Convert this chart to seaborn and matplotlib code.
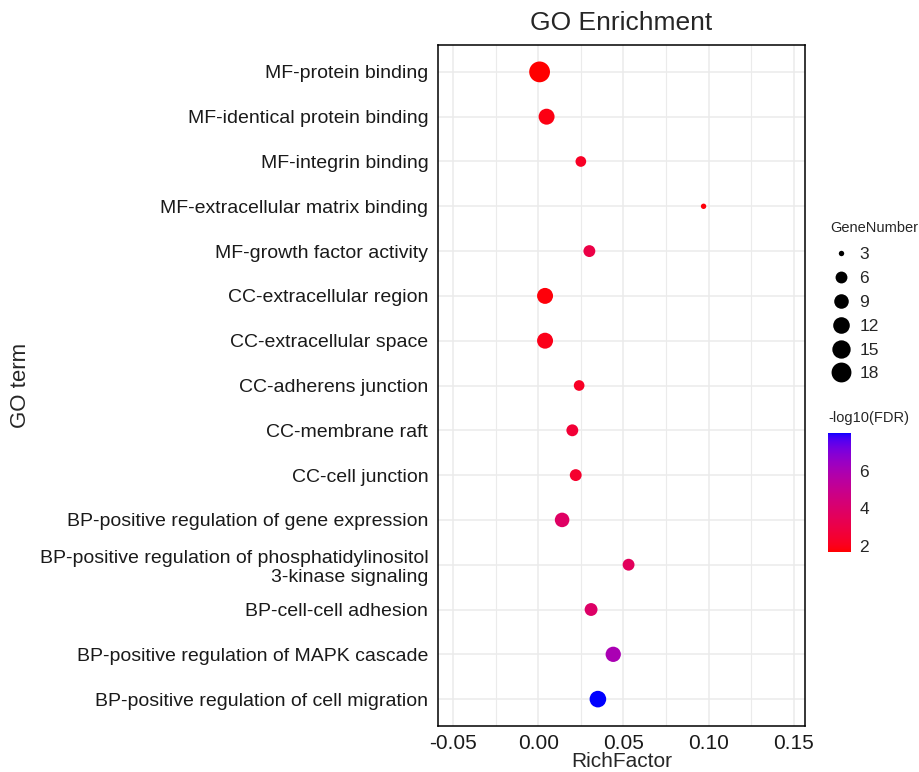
import numpy as np
import pandas as pd
import matplotlib
matplotlib.use('Agg')
import matplotlib.pyplot as plt
import seaborn as sns
from matplotlib.colors import ListedColormap, Normalize
from matplotlib.cm import ScalarMappable
from matplotlib.lines import Line2D

# GO terms, top to bottom
terms = [
    'MF-protein binding',
    'MF-identical protein binding',
    'MF-integrin binding',
    'MF-extracellular matrix binding',
    'MF-growth factor activity',
    'CC-extracellular region',
    'CC-extracellular space',
    'CC-adherens junction',
    'CC-membrane raft',
    'CC-cell junction',
    'BP-positive regulation of gene expression',
    'BP-positive regulation of phosphatidylinositol\n3-kinase signaling',
    'BP-cell-cell adhesion',
    'BP-positive regulation of MAPK cascade',
    'BP-positive regulation of cell migration',
]
rich_factor = [0.0008, 0.0049, 0.025, 0.097, 0.030, 0.004, 0.004, 0.024,
               0.020, 0.022, 0.014, 0.053, 0.031, 0.044, 0.035]
gene_number = [20, 11, 5, 3, 6, 11, 11, 5, 6, 6, 9, 6, 7, 10, 12]
neg_log10_fdr = [1.70, 1.90, 2.20, 1.80, 3.00, 1.80, 2.00, 2.20,
                 2.60, 2.40, 3.80, 3.60, 3.90, 6.00, 8.00]

size_breaks = [3, 6, 9, 12, 15, 18]
color_ticks = [2, 4, 6]
x_ticks = [-0.05, 0.00, 0.05, 0.10, 0.15]

df = pd.DataFrame({'term': terms, 'RichFactor': rich_factor,
                   'GeneNumber': gene_number, 'FDR': neg_log10_fdr})


# red -> blue gradient interpolated in Lab space (like ggplot2)
def lab_to_rgb(L, a, b):
    fy = (L + 16) / 116
    fx = fy + a / 500
    fz = fy - b / 200

    def finv(t):
        return np.where(t > 6 / 29, t ** 3, 3 * (6 / 29) ** 2 * (t - 4 / 29))

    X, Y, Z = 0.95047 * finv(fx), finv(fy), 1.08883 * finv(fz)
    r = 3.2406 * X - 1.5372 * Y - 0.4986 * Z
    g = -0.9689 * X + 1.8758 * Y + 0.0415 * Z
    bb = 0.0557 * X - 0.2040 * Y + 1.0570 * Z
    rgb = np.stack([r, g, bb], axis=-1)
    rgb = np.where(rgb <= 0.0031308, 12.92 * rgb,
                   1.055 * np.abs(rgb) ** (1 / 2.4) - 0.055)
    return np.clip(rgb, 0, 1)


t = np.linspace(0, 1, 256)
red_lab = np.array([53.24, 80.09, 67.20])
blue_lab = np.array([32.30, 79.19, -107.86])
lab = red_lab[None, :] + t[:, None] * (blue_lab - red_lab)[None, :]
cmap = ListedColormap(lab_to_rgb(lab[:, 0], lab[:, 1], lab[:, 2]))
norm = Normalize(vmin=1.68, vmax=8.0)


# point radius (px) grows with sqrt of the count, as ggplot's scale_size
def radius_px(v, vmin=3, vmax=20, rmin=2.7, rmax=10.4):
    return rmin + (rmax - rmin) * np.sqrt((v - vmin) / (vmax - vmin))


px = 0.72  # points per pixel at dpi 100
size_map = {v: (2 * radius_px(v) * px) ** 2 for v in sorted(set(gene_number))}

sns.set_style('white')
plt.rcParams['font.family'] = ['Liberation Sans', 'DejaVu Sans']

fig = plt.figure(figsize=(9.2, 7.72), dpi=100)
ax = fig.add_axes([438 / 920, 1 - 726 / 772, 367 / 920, 681 / 772])

sns.scatterplot(data=df, x='RichFactor', y='term', hue='FDR', size='GeneNumber',
                palette=cmap, hue_norm=norm, sizes=size_map, linewidth=0,
                legend=False, ax=ax, zorder=3)

ax.set_xlim(-0.0588, 0.1565)
ax.set_ylim(len(terms) - 0.4, -0.6)
ax.set_xticks(x_ticks)
ax.set_xticklabels(['-0.05', '0.00', '0.05', '0.10', '0.15'])
ax.set_xticks([-0.025, 0.025, 0.075, 0.125], minor=True)
ax.grid(which='major', color='#EBEBEB', linewidth=1.1, zorder=0)
ax.grid(which='minor', axis='x', color='#EBEBEB', linewidth=0.8, zorder=0)
ax.set_axisbelow(True)
for s in ax.spines.values():
    s.set_color('black')
    s.set_linewidth(1.1)
ax.tick_params(axis='both', which='major', length=4, width=0.8, color='#333333',
               labelcolor='#1a1a1a', direction='out', pad=3)
ax.tick_params(axis='y', labelsize=14)
ax.tick_params(axis='x', labelsize=15, pad=2)
ax.tick_params(axis='x', which='minor', length=0)
for lbl in ax.get_yticklabels():
    lbl.set_linespacing(1.2)

ax.set_title('GO Enrichment', fontsize=19, pad=11)
ax.set_xlabel('RichFactor', fontsize=15, labelpad=-1)
ax.set_ylabel('GO term', fontsize=16)
ax.yaxis.set_label_coords((31 - 438) / 367, 0.5)

# size legend
handles = [Line2D([], [], marker='o', linestyle='', color='black',
                  markeredgewidth=0, markersize=2 * radius_px(v) * px)
           for v in size_breaks]
leg = fig.legend(handles, [str(v) for v in size_breaks], title='GeneNumber',
                 loc='upper left', bbox_to_anchor=(822 / 920, 1 - 212 / 772),
                 frameon=False, fontsize=12.5, title_fontsize=10.5,
                 labelspacing=0.5, handlelength=1.2, handletextpad=0.45,
                 borderpad=0, alignment='left')
leg._legend_box.sep = 9

# colour bar
cax = fig.add_axes([828 / 920, 1 - 552 / 772, 23 / 920, 119 / 772])
cb = fig.colorbar(ScalarMappable(norm=norm, cmap=cmap), cax=cax)
cb.set_ticks(color_ticks)
cb.outline.set_visible(False)
cax.tick_params(direction='in', color='white', length=4, width=0.8,
                labelsize=12.5, pad=6, left=True, right=True)
cax.set_title('-log10(FDR)', fontsize=10.5, loc='left', pad=8)

fig.savefig('out.png', dpi=100)
